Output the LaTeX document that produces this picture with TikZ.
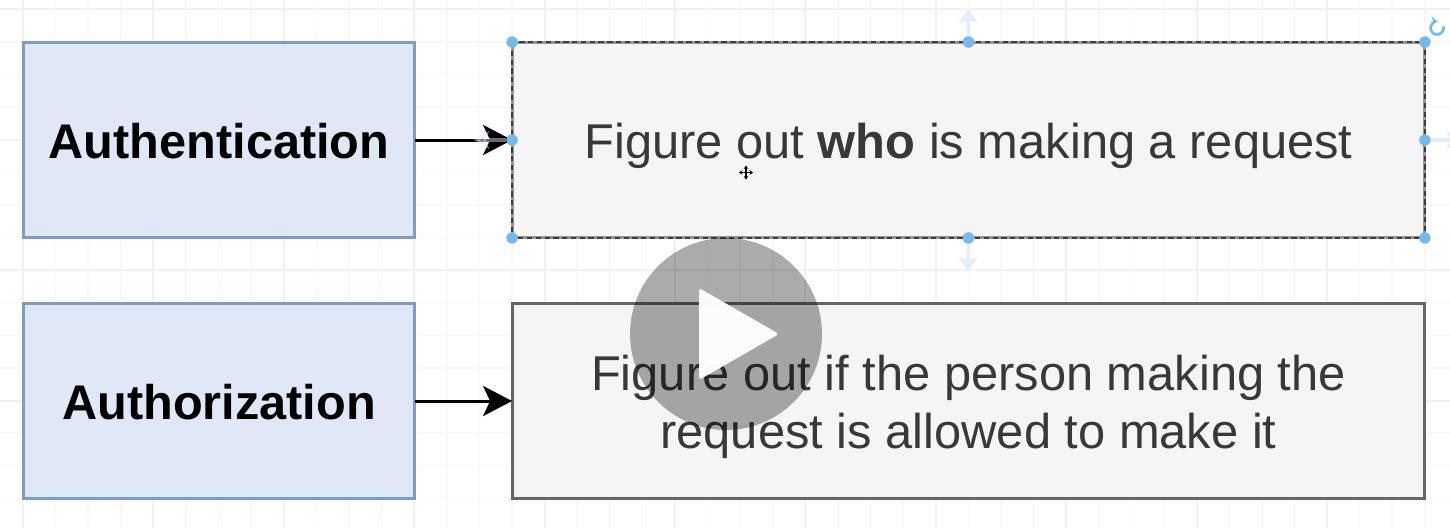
\documentclass[tikz,border=0pt]{standalone}
\usepackage{fontspec}
\setmainfont{Liberation Sans}
\usetikzlibrary{arrows.meta,positioning}
\definecolor{termfill}{HTML}{E0E8F8}
\definecolor{termline}{HTML}{7F9BC6}
\definecolor{descfill}{HTML}{F5F5F5}
\definecolor{descline}{HTML}{666666}
\definecolor{handleblue}{HTML}{7AB8EA}
\definecolor{hintblue}{HTML}{E2EFFA}
\definecolor{gridgray}{HTML}{F8F8F8}
\definecolor{gridmajor}{HTML}{F1F1F1}

\begin{document}
\begin{tikzpicture}[x=0.02cm, y=-0.02cm, >={Stealth[length=0.58cm, width=0.6cm, inset=0.14cm]},
             term/.style={rectangle, draw=termline, fill=termfill, line width=0.06cm,
                          minimum width=7.84cm, minimum height=3.92cm, outer sep=0pt,
                          text height=0.73cm, text depth=0pt,
                          font=\fontsize{27.7}{32}\selectfont\bfseries},
             desc/.style={rectangle, draw=descline, fill=descfill, text=black!78, line width=0.06cm,
                          minimum width=18.26cm, minimum height=3.92cm, outer sep=0pt, align=center,
                          text height=0.73cm, text depth=0pt,
                          font=\fontsize{27.8}{32.8}\selectfont},
             handle/.style={circle, fill=handleblue, inner sep=0pt, minimum size=0.23cm},
             hint/.style={draw=hintblue, line width=0.07cm, -{Stealth[length=0.3cm, width=0.36cm, inset=0.06cm]}},
             link/.style={->, line width=0.06cm}]
\useasboundingbox (0,0) rectangle (1450,528);
%% background grid
\foreach \i in {0,...,43} \draw[gridgray, line width=0.03cm] ({23+32.6*\i},0) -- ({23+32.6*\i},528);
\foreach \j in {0,...,15} \draw[gridgray, line width=0.03cm] (0,{9.3+32.6*\j}) -- (1450,{9.3+32.6*\j});
\foreach \i in {0,...,10} \draw[gridmajor, line width=0.04cm] ({23+130.4*\i},0) -- ({23+130.4*\i},528);
\foreach \j in {0,...,3} \draw[gridmajor, line width=0.04cm] (0,{9.3+130.4*\j}) -- (1450,{9.3+130.4*\j});

%% the two terms and what they mean
\node[term] (authn) at (219,140) {Authentication};
\node[term] (authz) at (219,401) {Authorization};
\node[desc, draw=descline!70] (whobox) at (968.5,140) {Figure out \textbf{who} is making a request};
\node[desc, text height=1.88cm] (allowbox) at (968.5,401) {Figure out if the person making the\\request is allowed to make it};
\draw[link] (authn) -- (whobox);
\draw[link] (authz) -- (allowbox);

%% selection around the first box
\draw[descline!60!black, line width=0.03cm, densely dashed] (whobox.north west) rectangle (whobox.south east);
\foreach \a/\nm in {north west/hnw, north/hn, north east/hne, west/hw, east/he, south west/hsw, south/hs, south east/hse}
  \node[handle] (\nm) at (whobox.\a) {};
\coordinate (hintn) at (968,8);
\coordinate (hints) at (968,272);
\coordinate (hinte) at (1462,140);
\coordinate (hintw) at (474,140);
\draw[hint] ([yshift=4pt]hn) -- (hintn);
\draw[hint] ([yshift=-4pt]hs) -- (hints);
\draw[hint] ([xshift=6pt]he) -- (hinte);
\draw[hint, opacity=0.45] ([xshift=-6pt]hw) -- (hintw);
%% rotate mark
\draw[handleblue, line width=0.055cm, -{Stealth[length=0.13cm, width=0.18cm]}] (1443.3,26.3) arc[start angle=-15, end angle=275, radius=6.5];

%% move cursor
\coordinate (curs) at (746,172.5);
\draw[<->, >={Stealth[length=0.07cm, width=0.09cm]}, line width=0.025cm] ([xshift=-4pt]curs) -- ([xshift=4pt]curs);
\draw[<->, >={Stealth[length=0.07cm, width=0.09cm]}, line width=0.025cm] ([yshift=-4pt]curs) -- ([yshift=4pt]curs);

%% video play button
\node[circle, fill=black, opacity=0.33, minimum size=3.84cm, inner sep=0pt] (playdisc) at (726,334) {};
\fill[white, opacity=0.97, rounded corners=0.06cm] (699,288) -- (779,334) -- (699,380) -- cycle;
\end{tikzpicture}
\end{document}
